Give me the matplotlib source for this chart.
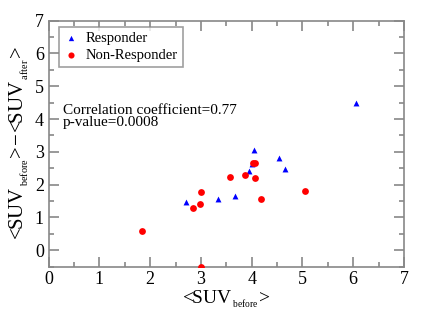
import matplotlib
matplotlib.use("Agg")
import matplotlib.pyplot as plt
from matplotlib.ticker import MultipleLocator

plt.rcParams['font.family'] = ['Liberation Serif', 'DejaVu Serif']
plt.rcParams['mathtext.fontset'] = 'custom'
plt.rcParams['mathtext.rm'] = 'Liberation Serif'
plt.rcParams['mathtext.it'] = 'Liberation Serif'

resp_x = [2.70, 3.34, 3.67, 3.94, 4.00, 4.04, 4.54, 4.66, 6.05]
resp_y = [1.47, 1.55, 1.65, 2.42, 2.63, 3.05, 2.81, 2.48, 4.48]
non_x = [1.84, 2.84, 2.99, 3.01, 3.00, 3.58, 3.87, 4.03, 4.06, 4.07, 4.19, 5.05]
non_y = [0.59, 1.27, 1.41, 1.78, -0.52, 2.22, 2.30, 2.65, 2.65, 2.21, 1.55, 1.79]

fig = plt.figure(figsize=(4.33, 3.17), dpi=100)
ax = fig.add_axes([48.7/433, 1 - 266.5/317, (404 - 48.7)/433, (266.5 - 20.7)/317])

ax.scatter(resp_x, resp_y, marker='^', s=18, color='#0000ff', label='Responder', zorder=3, linewidths=0)
ax.scatter(non_x, non_y, marker='o', s=24, color='#ff0000', label='Non-Responder', zorder=3, linewidths=0)

ax.set_xlim(0, 7)
ax.set_ylim(-0.5, 7)
ax.xaxis.set_major_locator(MultipleLocator(1))
ax.xaxis.set_minor_locator(MultipleLocator(0.5))
ax.yaxis.set_major_locator(MultipleLocator(1))
ax.yaxis.set_minor_locator(MultipleLocator(0.5))
ax.tick_params(which='both', direction='in', top=True, right=True, colors='#888888',
               labelcolor='black', labelsize=13)
ax.tick_params(which='major', length=7, width=1.2)
ax.tick_params(which='minor', length=3.5, width=1.2)
for s in ax.spines.values():
    s.set_color('#888888')
    s.set_linewidth(1.2)

ax.set_xlabel(r'$\mathregular{\!<\!\!SUV_{\,{}_{before}}\!>\!}$', fontsize=14, labelpad=0)
ax.set_ylabel(r'$\mathregular{\!<\!\!SUV_{\,{}_{before}}\!>\!\!-\!\!<\!\!SUV_{\,{}_{after}}\!>\!}$',
              fontsize=15, labelpad=3)

ax.text(0.28, 4.08, 'Correlation coefficient=0.77\np-value=0.0008', fontsize=11,
        va='center', ha='left', linespacing=0.95)

leg = ax.legend(loc='upper left', bbox_to_anchor=(0.028, 0.975), fontsize=10.5,
                frameon=True, fancybox=False, borderpad=0.35, handletextpad=0.5,
                labelspacing=0.25, handlelength=1.0, markerscale=0.9, borderaxespad=0)
leg.get_frame().set_edgecolor('#888888')
leg.get_frame().set_linewidth(1.2)

fig.savefig('out.png', dpi=100)
